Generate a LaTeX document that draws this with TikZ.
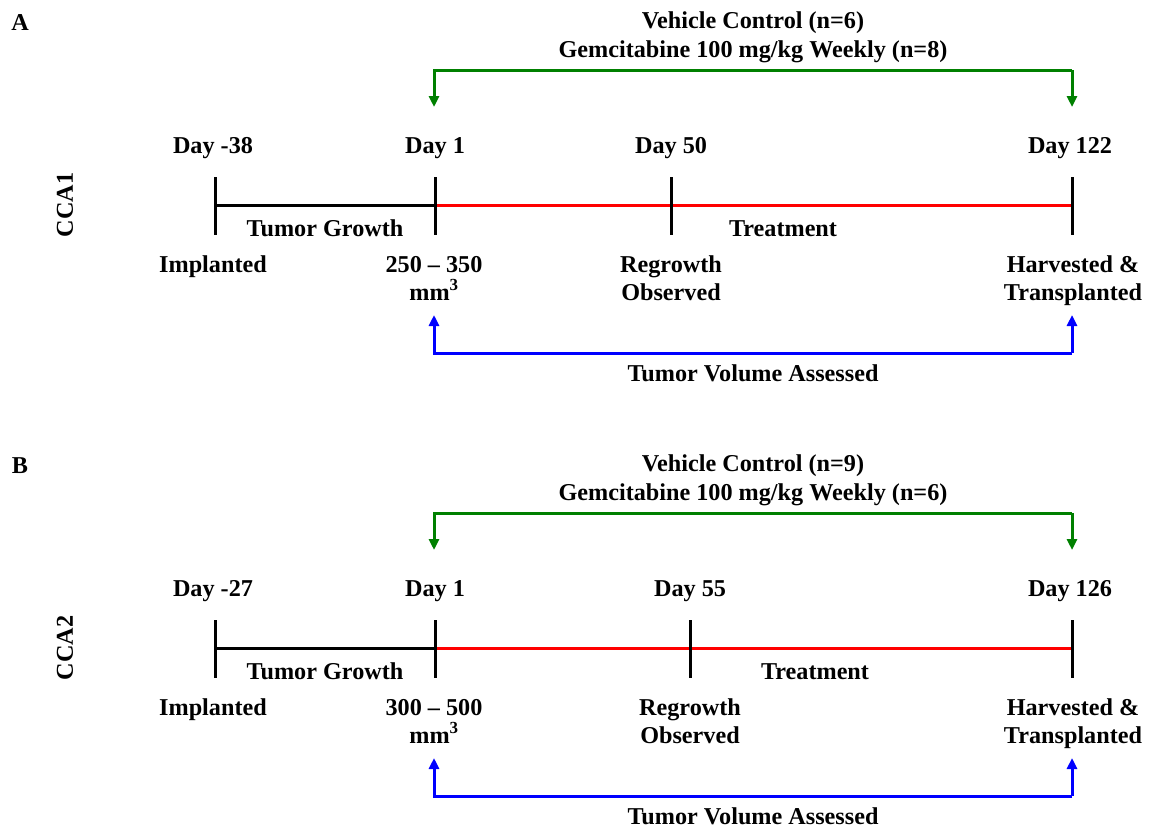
\documentclass[tikz,border=0pt]{standalone}
\usepackage{fontspec}
\setmainfont{Liberation Serif}
\usetikzlibrary{arrows.meta}
\definecolor{tlgreen}{RGB}{0,128,0}
\definecolor{tlred}{RGB}{255,0,0}
\definecolor{tlblue}{RGB}{0,0,255}
\tikzset{
  lbl/.style={font=\bfseries\fontsize{24.2}{29}\selectfont, inner sep=0pt, align=center, anchor=base},
  tick/.style={line width=3pt, black},
  seg/.style={line width=3.4pt},
  brk/.style={line width=3pt, -{Triangle[length=11pt,width=10pt]}},
}
\begin{document}
\begin{tikzpicture}[x=1pt,y=-1pt]
\useasboundingbox (0,0) rectangle (1150,827);
\foreach \off/\pan/\name/\dA/\dB/\dBx/\vc/\gc/\vol/\trx in
  {0/A/CCA1/-38/50/671/6/8/250 -- 350/783, 443/B/CCA2/-27/55/690/9/6/300 -- 500/815}{
  \begin{scope}[yshift=-\off pt]
  \node[lbl] (pan\pan) at (20,30) {\pan};
  \node[lbl, rotate=90, anchor=center] (name\pan) at (65,205) {\name};
  \node[lbl] (vc\pan) at (753,28) {Vehicle Control (n=\vc)};
  \node[lbl] (gc\pan) at (753,57) {Gemcitabine 100 mg/kg Weekly (n=\gc)};
  % ticks
  \coordinate (t0top\pan) at (215,177); \coordinate (t0bot\pan) at (215,235);
  \coordinate (t1top\pan) at (435,177); \coordinate (t1bot\pan) at (435,235);
  \coordinate (t2top\pan) at (\dBx,177); \coordinate (t2bot\pan) at (\dBx,235);
  \coordinate (t3top\pan) at (1072,177); \coordinate (t3bot\pan) at (1072,235);
  \coordinate (p0\pan) at (215,205.5); \coordinate (p1\pan) at (435,205.5);
  \coordinate (p3\pan) at (1072,205.5);
  \draw[seg, black] (p0\pan) -- (p1\pan);
  \draw[seg, tlred] (p1\pan) -- (p3\pan);
  \draw[tick] (t0top\pan) -- (t0bot\pan);
  \draw[tick] (t1top\pan) -- (t1bot\pan);
  \draw[tick] (t2top\pan) -- (t2bot\pan);
  \draw[tick] (t3top\pan) -- (t3bot\pan);
  % day labels
  \node[lbl] (d0\pan) at (213,153) {Day \dA};
  \node[lbl] (d1\pan) at (435,153) {Day 1};
  \node[lbl] (d2\pan) at (\dBx,153) {Day \dB};
  \node[lbl] (d3\pan) at (1070,153) {Day \ifnum\off=0 122\else 126\fi};
  \node[lbl] (tg\pan) at (325,236) {Tumor Growth};
  \node[lbl] (tr\pan) at (\trx,236) {Treatment};
  \node[lbl] (im\pan) at (213,272) {Implanted};
  \node[lbl] (vo\pan) at (434,272) {\vol};
  \node[lbl] (mm\pan) at (434,300) {mm\textsuperscript{3}};
  \node[lbl] (re\pan) at (\dBx,272) {Regrowth};
  \node[lbl] (ob\pan) at (\dBx,300) {Observed};
  \node[lbl] (ha\pan) at (1073,272) {Harvested \&};
  \node[lbl] (tp\pan) at (1073,300) {Transplanted};
  \node[lbl] (tv\pan) at (753,381) {Tumor Volume Assessed};
  % green bracket
  \coordinate (g0\pan) at (434,107); \coordinate (g3\pan) at (1072,107);
  \draw[brk, tlgreen] (1072,70) -- (434,70) -- (g0\pan);
  \draw[brk, tlgreen] (1072,70) -- (g3\pan);
  % blue bracket
  \coordinate (b0\pan) at (434,315); \coordinate (b3\pan) at (1072,315);
  \draw[brk, tlblue] (1072,353) -- (434,353) -- (b0\pan);
  \draw[brk, tlblue] (1072,353) -- (b3\pan);
  \end{scope}
}
\end{tikzpicture}
\end{document}
